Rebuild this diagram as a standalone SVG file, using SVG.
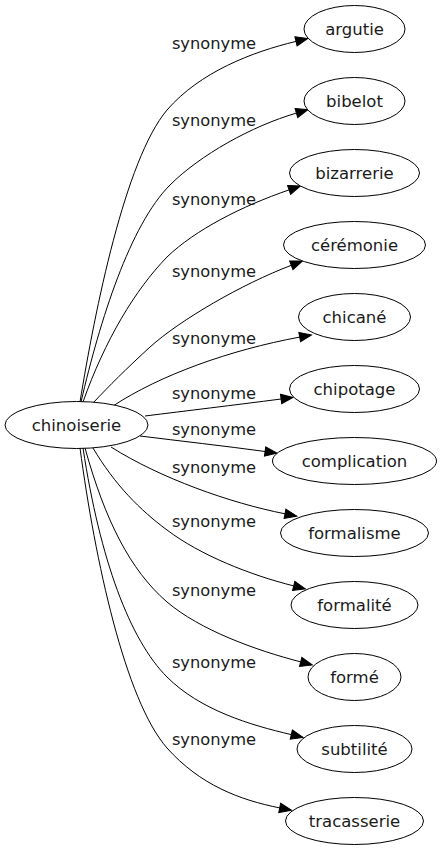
<svg xmlns="http://www.w3.org/2000/svg" width="442" height="851" viewBox="0 0 442 851">
<style>
.node ellipse{fill:#ffffff;stroke:#000000;stroke-width:1}
.node text{font-family:"DejaVu Sans","Liberation Sans",sans-serif;font-size:16.5px;fill:#1a1a1a;text-anchor:middle}
.edges path{fill:none;stroke:#000000;stroke-width:1;marker-end:url(#arrow)}
.edges text{font-family:"DejaVu Sans","Liberation Sans",sans-serif;font-size:16.3px;fill:#1a1a1a;text-anchor:middle}
</style>
<defs>
<marker id="arrow" markerUnits="userSpaceOnUse" markerWidth="14" markerHeight="12" refX="0" refY="5" orient="auto" overflow="visible">
<path d="M0,0.3 L12,5 L0,9.7 z" fill="#000000" stroke="#000000" stroke-width="1"/>
</marker>
</defs>
<rect x="0" y="0" width="442" height="851" fill="#ffffff"/>
<g id="connectors" class="edges">
<path d="M80,402 C95,310 125,160 167,110 C200,72 252,52 296,41.4"/>
<text x="214" y="49">synonyme</text>
<path d="M81,402 C100,320 130,225 170,185 C200,155 252,126 296.4,113.1"/>
<text x="214" y="126">synonyme</text>
<path d="M83,402 C105,340 135,290 167,257 C195,230 242,206 289.1,189.9"/>
<text x="214" y="205">synonyme</text>
<path d="M93,403 C110,385 125,370 150,347 C180,320 242,284 291.3,265.3"/>
<text x="214" y="277">synonyme</text>
<path d="M113,406 C160,375 230,350 299.7,337.1"/>
<text x="214" y="344">synonyme</text>
<path d="M145,416 C185,411 235,405 281.1,399"/>
<text x="214" y="399">synonyme</text>
<path d="M140,436 C180,441 225,446 265.1,451.5"/>
<text x="214" y="435">synonyme</text>
<path d="M111,447 C160,478 230,503 285,513.8"/>
<text x="214" y="473">synonyme</text>
<path d="M93,448 C115,485 140,510 167,530 C200,555 250,575 293.7,585.9"/>
<text x="214" y="527">synonyme</text>
<path d="M85,448 C105,520 130,570 167,602 C200,630 255,650 300.7,661.9"/>
<text x="214" y="596">synonyme</text>
<path d="M83,448 C100,560 130,640 167,677 C200,710 250,725 291.3,734.6"/>
<text x="214" y="668">synonyme</text>
<path d="M80,448 C95,560 125,700 167,748 C200,785 240,800 279.7,807.9"/>
<text x="214" y="745">synonyme</text>
</g>
<g id="chinoiserie" class="node"><ellipse cx="76.5" cy="425" rx="71.5" ry="23.5"/><text x="76.5" y="431">chinoiserie</text></g>
<g id="argutie" class="node"><ellipse cx="354.5" cy="29" rx="50.5" ry="23.5"/><text x="354.5" y="35">argutie</text></g>
<g id="bibelot" class="node"><ellipse cx="354.5" cy="101" rx="50.5" ry="23.5"/><text x="354.5" y="107">bibelot</text></g>
<g id="bizarrerie" class="node"><ellipse cx="354.5" cy="173" rx="65" ry="23.5"/><text x="354.5" y="179">bizarrerie</text></g>
<g id="ceremonie" class="node"><ellipse cx="354.5" cy="245" rx="71" ry="23.5"/><text x="354.5" y="251">cérémonie</text></g>
<g id="chicane" class="node"><ellipse cx="354.5" cy="317" rx="56" ry="23.5"/><text x="354.5" y="323">chicané</text></g>
<g id="chipotage" class="node"><ellipse cx="354.5" cy="389" rx="65" ry="23.5"/><text x="354.5" y="395">chipotage</text></g>
<g id="complication" class="node"><ellipse cx="354.5" cy="461" rx="82" ry="23.5"/><text x="354.5" y="467">complication</text></g>
<g id="formalisme" class="node"><ellipse cx="354.5" cy="533" rx="74" ry="23.5"/><text x="354.5" y="539">formalisme</text></g>
<g id="formalite" class="node"><ellipse cx="354.5" cy="605" rx="63.5" ry="23.5"/><text x="354.5" y="611">formalité</text></g>
<g id="forme" class="node"><ellipse cx="354.5" cy="677" rx="46.5" ry="23.5"/><text x="354.5" y="683">formé</text></g>
<g id="subtilite" class="node"><ellipse cx="354.5" cy="749" rx="57.5" ry="23.5"/><text x="354.5" y="755">subtilité</text></g>
<g id="tracasserie" class="node"><ellipse cx="354.5" cy="821" rx="69" ry="23.5"/><text x="354.5" y="827">tracasserie</text></g>
</svg>
